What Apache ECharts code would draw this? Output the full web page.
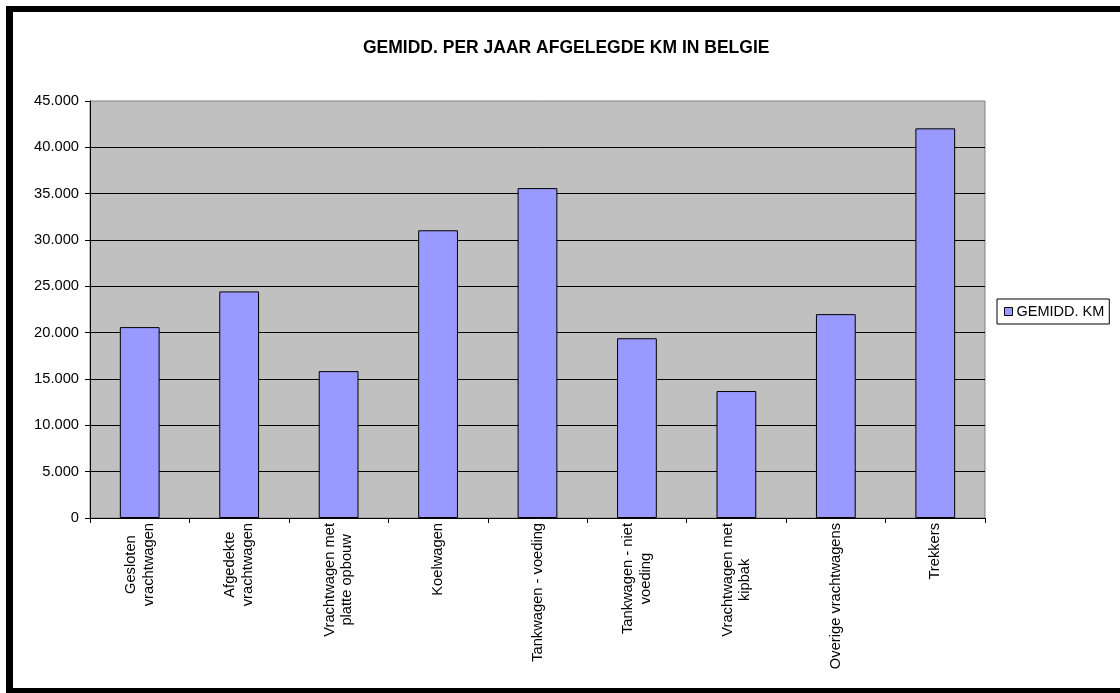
<!DOCTYPE html>
<html>
<head>
<meta charset="utf-8">
<script src="https://cdn.jsdelivr.net/npm/echarts@6/dist/echarts.min.js"></script>
<style>
html,body{margin:0;padding:0;background:#fff;}
#chart{width:1120px;height:693px;}
</style>
</head>
<body>
<div id="chart"></div>
<script>
const titleText = "GEMIDD. PER JAAR AFGELEGDE KM IN BELGIE";
const seriesName = "GEMIDD. KM";
const categories = [
  "Gesloten\nvrachtwagen",
  "Afgedekte\nvrachtwagen",
  "Vrachtwagen met\nplatte opbouw",
  "Koelwagen",
  "Tankwagen - voeding",
  "Tankwagen - niet\nvoeding",
  "Vrachtwagen met\nkipbak",
  "Overige vrachtwagens",
  "Trekkers"
];
const values = [20600, 24450, 15850, 31050, 35600, 19400, 13700, 22000, 42050];
const yMin = 0, yMax = 45000, yStep = 5000;

const FONT = "'Liberation Sans', Arial, sans-serif";
function fmt(v) {
  return String(Math.round(v)).replace(/\B(?=(\d{3})+(?!\d))/g, ".");
}

const chart = echarts.init(document.getElementById('chart'), null, {renderer: 'canvas'});
chart.setOption({
  animation: false,
  backgroundColor: '#ffffff',
  textStyle: {fontFamily: FONT},
  title: {
    text: titleText,
    left: 358,
    top: 34,
    textStyle: {fontFamily: FONT, fontSize: 17.5, fontWeight: 'bold', color: '#000'}
  },
  legend: {
    data: [seriesName],
    left: 997,
    top: 299,
    orient: 'vertical',
    backgroundColor: '#fff',
    borderColor: '#000',
    borderWidth: 1,
    borderRadius: 0,
    padding: [5, 5, 5, 7],
    itemWidth: 8,
    itemHeight: 8,
    itemGap: 5,
    icon: 'rect',
    itemStyle: {color: '#9999FF', borderColor: '#000', borderWidth: 1},
    textStyle: {fontFamily: FONT, fontSize: 14.5, color: '#000', padding: [0,0,0,-1]}
  },
  grid: {
    left: 90, right: 135, top: 101, bottom: 175,
    show: true,
    backgroundColor: '#C0C0C0',
    borderColor: '#808080',
    borderWidth: 1,
    containLabel: false
  },
  xAxis: {
    type: 'category',
    data: categories,
    boundaryGap: true,
    axisLine: {show: true, lineStyle: {color: '#000', width: 1}},
    axisTick: {show: true, length: 5, inside: false, lineStyle: {color: '#000'}},
    axisLabel: {
      rotate: 90,
      interval: 0,
      margin: 5,
      color: '#000',
      fontFamily: FONT,
      fontSize: 14.7,
      lineHeight: 17.5,
      formatter: function (v) {
        return v.split('\n').map(function (s) { return '{c|' + s + '}'; }).join('\n');
      },
      rich: {c: {align: 'center', fontFamily: FONT, fontSize: 14.7, lineHeight: 17.5, color: '#000'}}
    },
    splitLine: {show: false}
  },
  yAxis: {
    type: 'value',
    min: yMin, max: yMax, interval: yStep,
    axisLine: {show: true, lineStyle: {color: '#000', width: 1}},
    axisTick: {show: true, length: 5, lineStyle: {color: '#000'}},
    axisLabel: {
      margin: 11,
      color: '#000',
      fontFamily: FONT,
      fontSize: 14.7,
      formatter: fmt
    },
    splitLine: {show: true, showMinLine: false, showMaxLine: false, lineStyle: {color: '#000', width: 1}}
  },
  series: [{
    name: seriesName,
    type: 'bar',
    data: values,
    barWidth: '40%',
    itemStyle: {color: '#9999FF', borderColor: '#000', borderWidth: 1}
  }],
  graphic: [
    {type: 'rect', shape: {x: 6, y: 6, width: 1114, height: 6}, style: {fill: '#000'}, silent: true},
    {type: 'rect', shape: {x: 6, y: 6, width: 7, height: 687}, style: {fill: '#000'}, silent: true},
    {type: 'rect', shape: {x: 6, y: 688, width: 1114, height: 5}, style: {fill: '#000'}, silent: true}
  ]
});
</script>
</body>
</html>
